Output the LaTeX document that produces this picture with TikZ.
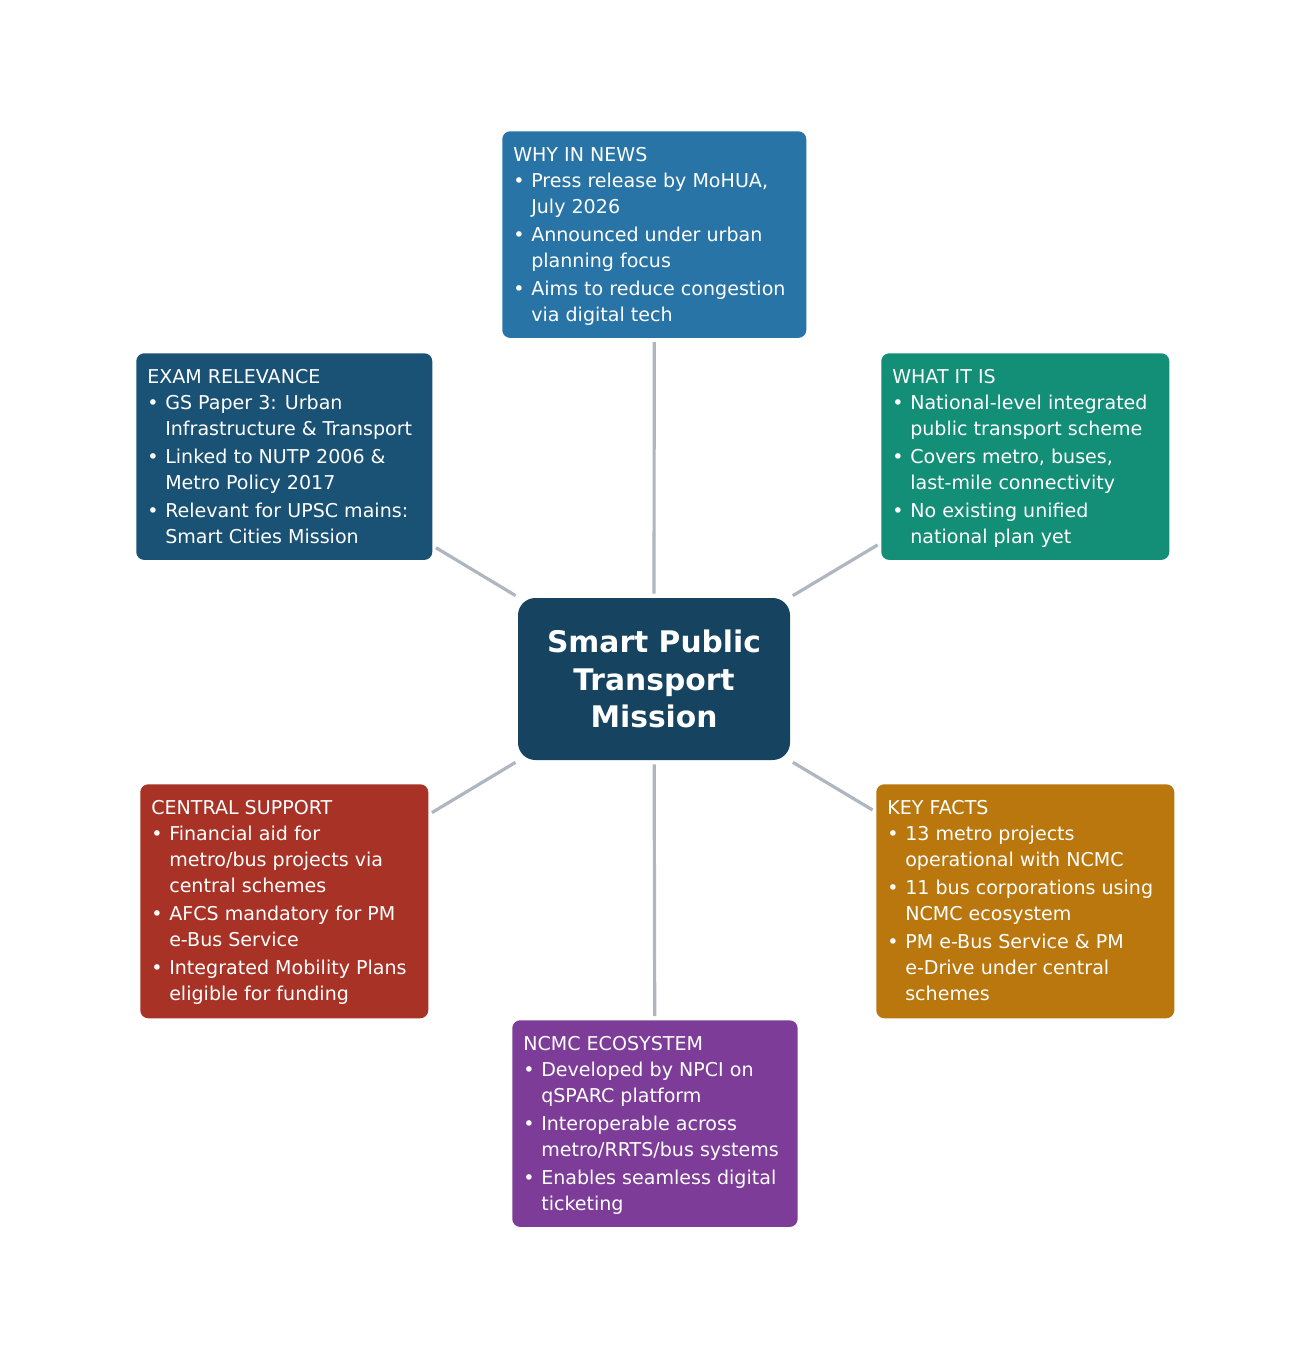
\documentclass[tikz,border=0pt]{standalone}
\usepackage{fontspec}
\setmainfont{DejaVu Sans}
\newcommand\myB{\makebox[13.5pt][l]{•}}
\newcommand\myI{\hspace*{13.5pt}}
\definecolor{cNews}{HTML}{2874A6}
\definecolor{cWhat}{HTML}{148F77}
\definecolor{cExam}{HTML}{1A5276}
\definecolor{cCtr}{HTML}{154360}
\definecolor{cCent}{HTML}{A93226}
\definecolor{cKey}{HTML}{B9770E}
\definecolor{cNcmc}{HTML}{7D3C98}
\definecolor{cLine}{HTML}{AEB6BF}
\begin{document}
\begin{tikzpicture}[x=0.75pt,y=-0.75pt,
 box/.style={fill=#1,draw=none,rounded corners=6pt,anchor=north west,inner sep=0pt},
 txt/.style={anchor=north west,inner sep=0pt,text=white,align=left,font=\fontsize{14.3}{19.5}\selectfont},
 conn/.style={draw=cLine,line width=2.4pt,shorten <=3pt,shorten >=3pt}]
\useasboundingbox[fill=white] (0,0) rectangle (1308,1358);
% center
\node[fill=cCtr,rounded corners=13pt,minimum width=204pt,minimum height=121.5pt,inner sep=0pt,text=white,align=center,font=\bfseries\fontsize{22.3}{28.3}\selectfont] (c) at (654,679) {Smart Public\\Transport\\Mission};
% boxes
\node[box=cNews,minimum width=228pt,minimum height=155pt] (news) at (502,131) {};
\node[txt] at ([shift={(11,16)}]news.north west) {WHY IN NEWS\\
\myB Press release by MoHUA,\\\myI July 2026\\[1.5pt]
\myB Announced under urban\\\myI planning focus\\[1.5pt]
\myB Aims to reduce congestion\\\myI via digital tech};
\node[box=cWhat,minimum width=216pt,minimum height=155pt] (what) at (881,353) {};
\node[txt] at ([shift={(11,16)}]what.north west) {WHAT IT IS\\
\myB National-level integrated\\\myI public transport scheme\\[1.5pt]
\myB Covers metro, buses,\\\myI last-mile connectivity\\[1.5pt]
\myB No existing unified\\\myI national plan yet};
\node[box=cExam,minimum width=222pt,minimum height=155pt] (exam) at (136,353) {};
\node[txt] at ([shift={(11,16)}]exam.north west) {EXAM RELEVANCE\\
\myB GS Paper 3: Urban\\\myI Infrastructure \& Transport\\[1.5pt]
\myB Linked to NUTP 2006 \&\\\myI Metro Policy 2017\\[1.5pt]
\myB Relevant for UPSC mains:\\\myI Smart Cities Mission};
\node[box=cCent,minimum width=216pt,minimum height=175.5pt] (cent) at (140,784) {};
\node[txt] at ([shift={(11,16)}]cent.north west) {CENTRAL SUPPORT\\
\myB Financial aid for\\\myI metro/bus projects via\\\myI central schemes\\[1.5pt]
\myB AFCS mandatory for PM\\\myI e-Bus Service\\[1.5pt]
\myB Integrated Mobility Plans\\\myI eligible for funding};
\node[box=cKey,minimum width=223.5pt,minimum height=175.5pt] (key) at (876,784) {};
\node[txt] at ([shift={(11,16)}]key.north west) {KEY FACTS\\
\myB 13 metro projects\\\myI operational with NCMC\\[1.5pt]
\myB 11 bus corporations using\\\myI NCMC ecosystem\\[1.5pt]
\myB PM e-Bus Service \& PM\\\myI e-Drive under central\\\myI schemes};
\node[box=cNcmc,minimum width=214pt,minimum height=155pt] (ncmc) at (512,1020) {};
\node[txt] at ([shift={(11,16)}]ncmc.north west) {NCMC ECOSYSTEM\\
\myB Developed by NPCI on\\\myI qSPARC platform\\[1.5pt]
\myB Interoperable across\\\myI metro/RRTS/bus systems\\[1.5pt]
\myB Enables seamless digital\\\myI ticketing};
% connectors
\draw[conn] (c) -- (news);
\draw[conn] (c) -- (what);
\draw[conn] (c) -- (exam);
\draw[conn] (c) -- (cent);
\draw[conn] (c) -- (key);
\draw[conn] (c) -- (ncmc);
\end{tikzpicture}
\end{document}
